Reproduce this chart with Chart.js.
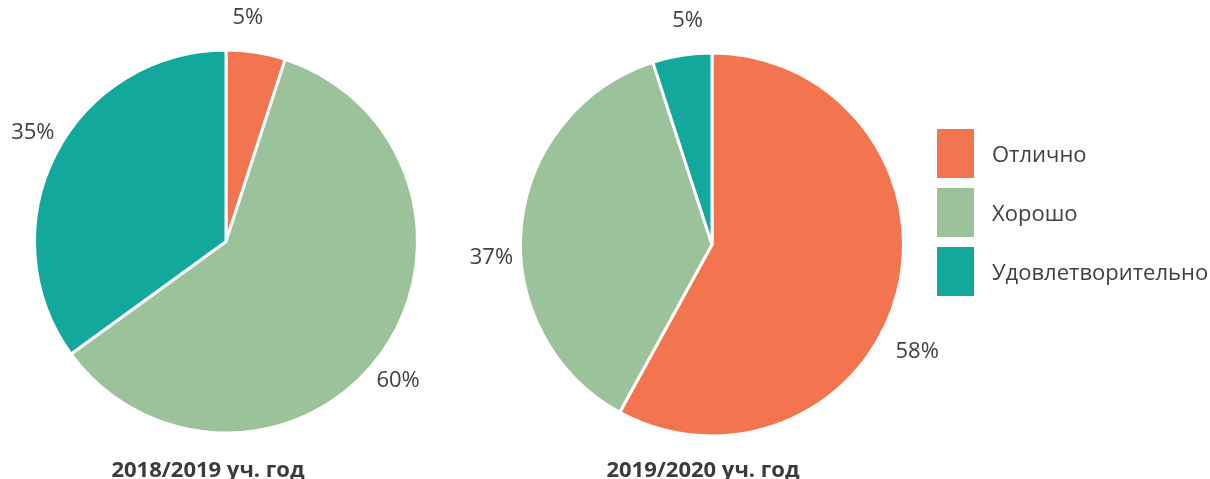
<!DOCTYPE html>
<html>
<head>
<meta charset="utf-8">
<script src="https://cdn.jsdelivr.net/npm/chart.js@4"></script>
<style>
  html, body { margin: 0; padding: 0; background: #fff; }
  #wrap { position: relative; width: 1210px; height: 479px; overflow: hidden; font-family: 'Open Sans', sans-serif; color: #404040; }
  canvas { position: absolute; top: 0; }
  #c1 { left: 0; }
  #c2 { left: 470px; }
  .title { position: absolute; top: 453px; font-weight: bold; font-size: 22px; line-height: 30px; white-space: nowrap; transform: translateX(-50%); color: #3b3b3b; }
  #legend { position: absolute; left: 937px; top: 129px; }
  .item { position: relative; height: 49px; margin-bottom: 10px; }
  .box { position: absolute; left: 0; top: 0; width: 37px; height: 49px; }
  .lbl { position: absolute; left: 55px; top: 0; line-height: 49px; font-size: 22px; white-space: nowrap; color: #404040; }
</style>
</head>
<body>
<div id="wrap">
  <canvas id="c1" width="470" height="479"></canvas>
  <canvas id="c2" width="470" height="479"></canvas>
  <div class="title" id="t1" style="left:208px"></div>
  <div class="title" id="t2" style="left:703px"></div>
  <div id="legend"></div>
</div>
<script>
// ---- data ----
const categories = ['Отлично', 'Хорошо', 'Удовлетворительно'];
const values2018 = [5, 60, 35];
const values2019 = [58, 37, 5];
const titles = ['2018/2019 уч. год', '2019/2020 уч. год'];
const colors = ['#F37550', '#9BC29B', '#12A89B'];

// ---- label plugin: percentage outside each slice ----
const outsideLabels = {
  id: 'outsideLabels',
  afterDatasetsDraw(chart, args, opts) {
    const ctx = chart.ctx;
    const meta = chart.getDatasetMeta(0);
    const data = chart.data.datasets[0].data;
    const total = data.reduce((a, b) => a + b, 0);
    ctx.save();
    ctx.font = '22px "Open Sans"';
    ctx.fillStyle = '#404040';
    ctx.textAlign = 'center';
    ctx.textBaseline = 'middle';
    meta.data.forEach((arc, i) => {
      const p = arc.getProps(['x', 'y', 'startAngle', 'endAngle', 'outerRadius'], true);
      const adj = (opts.adjust && opts.adjust[i]) || [0, 0];
      const mid = (p.startAngle + p.endAngle) / 2 + adj[0] * Math.PI / 180;
      const r = p.outerRadius + 32 + adj[1];
      const pct = Math.round(data[i] / total * 100) + '%';
      ctx.fillText(pct, p.x + Math.cos(mid) * r, p.y + Math.sin(mid) * r);
    });
    ctx.restore();
  }
};

function makePie(id, values, padding, adjust) {
  return new Chart(document.getElementById(id), {
    type: 'pie',
    data: {
      labels: categories,
      datasets: [{
        data: values,
        backgroundColor: colors,
        borderColor: '#ffffff',
        borderWidth: 3
      }]
    },
    options: {
      responsive: false,
      animation: false,
      events: [],
      layout: { padding: padding },
      plugins: {
        legend: { display: false },
        tooltip: { enabled: false },
        outsideLabels: { adjust: adjust }
      }
    },
    plugins: [outsideLabels]
  });
}

makePie('c1', values2018, { left: 33, top: 48.5, right: 51, bottom: 44.5 },
        [[-3.4, 1], [3, -2], [2.3, -2]]);
makePie('c2', values2019, { left: 49, top: 51.5, right: 35, bottom: 41.5 },
        [[13.2, 8], [-8.9, -2.5], [2.8, 2]]);

document.getElementById('t1').textContent = titles[0];
document.getElementById('t2').textContent = titles[1];

const legend = document.getElementById('legend');
categories.forEach((c, i) => {
  const it = document.createElement('div');
  it.className = 'item';
  it.innerHTML = '<div class="box" style="background:' + colors[i] + '"></div><div class="lbl"></div>';
  it.querySelector('.lbl').textContent = c;
  legend.appendChild(it);
});
</script>
</body>
</html>
